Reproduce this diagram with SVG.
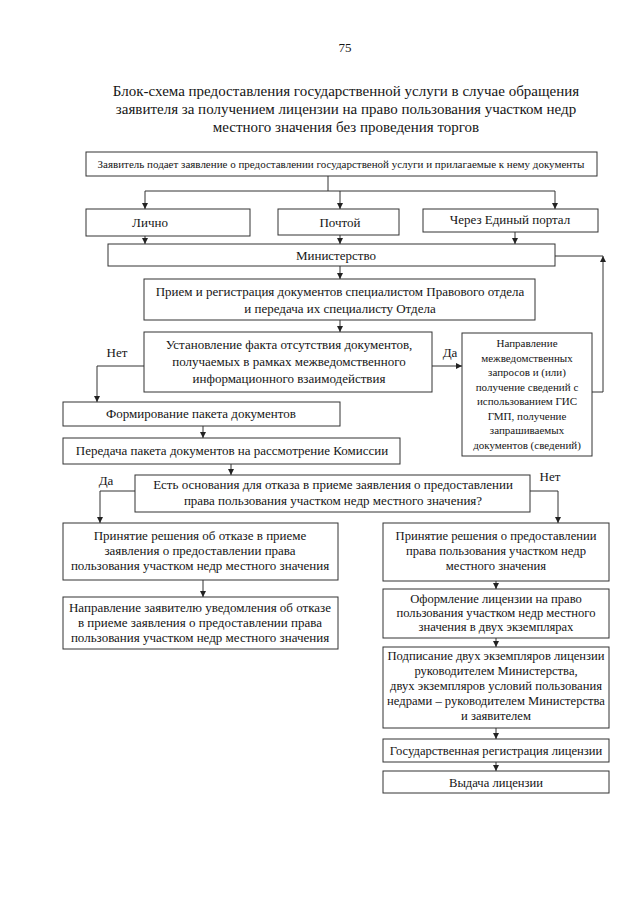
<svg xmlns="http://www.w3.org/2000/svg" width="640" height="905" viewBox="0 0 640 905">
<defs>
<marker id="ah" markerWidth="6" markerHeight="6" refX="6" refY="3" orient="auto" markerUnits="userSpaceOnUse"><path d="M0,0 L6,3 L0,6 z" fill="#222"/></marker>
<style>
.b{fill:#fff;stroke:#333;stroke-width:1}
.t{font-family:"Liberation Serif","Times New Roman",serif;font-size:13px;fill:#151515;text-anchor:middle}
.s{font-size:11px}
.h{font-size:15px}
.r{font-size:12.6px}
.c{fill:none;stroke:#333;stroke-width:1}
</style>
</defs>
<rect width="640" height="905" fill="#fff"/>
<text class="t" x="345" y="52">75</text>
<g id="title">
<text class="t h" x="346" y="96">Блок-схема предоставления государственной услуги в случае обращения</text>
<text class="t h" x="346" y="114">заявителя за получением лицензии на право пользования участком недр</text>
<text class="t h" x="346" y="132">местного значения без проведения торгов</text>
</g>
<g id="connectors">
<path class="c" d="M328,176 V191"/>
<path class="c" d="M145,191 H555"/>
<path class="c" d="M145,191 V209" marker-end="url(#ah)"/>
<path class="c" d="M340,191 V209" marker-end="url(#ah)"/>
<path class="c" d="M555,191 V209" marker-end="url(#ah)"/>
<path class="c" d="M145,236 V244" marker-end="url(#ah)"/>
<path class="c" d="M340,235 V244" marker-end="url(#ah)"/>
<path class="c" d="M515,232 V244" marker-end="url(#ah)"/>
<path class="c" d="M340,266 V279" marker-end="url(#ah)"/>
<path class="c" d="M340,320 V332" marker-end="url(#ah)"/>
<path class="c" d="M555,256 H603"/>
<path class="c" d="M592,392 H603 V256" marker-end="url(#ah)"/>
<path class="c" d="M432,366 H462" marker-end="url(#ah)"/>
<path class="c" d="M144,366 H97 V402" marker-end="url(#ah)"/>
<path class="c" d="M203,426 V438" marker-end="url(#ah)"/>
<path class="c" d="M231,464 V475" marker-end="url(#ah)"/>
<path class="c" d="M135,491 H100 V523" marker-end="url(#ah)"/>
<path class="c" d="M530,491 H558 V523" marker-end="url(#ah)"/>
<path class="c" d="M203,580 V597" marker-end="url(#ah)"/>
<path class="c" d="M496,581 V589" marker-end="url(#ah)"/>
<path class="c" d="M496,638 V647" marker-end="url(#ah)"/>
<path class="c" d="M496,728 V739" marker-end="url(#ah)"/>
<path class="c" d="M496,762 V771" marker-end="url(#ah)"/>
<text class="t" x="117" y="357">Нет</text>
<text class="t" x="450" y="357">Да</text>
<text class="t" x="106" y="485">Да</text>
<text class="t" x="550" y="481">Нет</text>
</g>
<g id="n-start"><rect class="b" x="86" y="152" width="511" height="24"/><text class="t s" x="341" y="168">Заявитель подает заявление о предоставлении государственой услуги и прилагаемые к нему документы</text></g>
<g id="n-lichno"><rect class="b" x="86" y="209" width="164" height="27"/><text class="t" x="150" y="227">Лично</text></g>
<g id="n-pochta"><rect class="b" x="278" y="209" width="121" height="26"/><text class="t" x="340" y="227">Почтой</text></g>
<g id="n-portal"><rect class="b" x="423" y="209" width="175" height="23"/><text class="t" x="510" y="224">Через Единый портал</text></g>
<g id="n-min"><rect class="b" x="108" y="244" width="447" height="22"/><text class="t" x="336" y="260">Министерство</text></g>
<g id="n-priem"><rect class="b" x="144" y="279" width="391" height="41"/><text class="t" x="340" y="296">Прием и регистрация документов специалистом Правового отдела</text><text class="t" x="340" y="313">и передача их специалисту Отдела</text></g>
<g id="n-ustan"><rect class="b" x="144" y="332" width="288" height="60"/><text class="t" x="289" y="349">Установление факта отсутствия документов,</text><text class="t" x="289" y="366">получаемых в рамках межведомственного</text><text class="t" x="289" y="383">информационного взаимодействия</text></g>
<g id="n-zapros"><rect class="b" x="462" y="333" width="130" height="123"/>
<text class="t s" x="527" y="347">Направление</text>
<text class="t s" x="527" y="361.5">межведомственных</text>
<text class="t s" x="527" y="376">запросов и (или)</text>
<text class="t s" x="527" y="390.5">получение сведений с</text>
<text class="t s" x="527" y="405">использованием ГИС</text>
<text class="t s" x="527" y="419.5">ГМП, получение</text>
<text class="t s" x="527" y="434">запрашиваемых</text>
<text class="t s" x="527" y="448.5">документов (сведений)</text></g>
<g id="n-form"><rect class="b" x="63" y="402" width="277" height="24"/><text class="t" x="201" y="418">Формирование пакета документов</text></g>
<g id="n-pered"><rect class="b" x="63" y="438" width="337" height="26"/><text class="t" x="232" y="455">Передача пакета документов на рассмотрение Комиссии</text></g>
<g id="n-est"><rect class="b" x="135" y="475" width="395" height="37"/><text class="t" x="333" y="489">Есть основания для отказа в приеме заявления о предоставлении</text><text class="t" x="333" y="505">права пользования участком недр местного значения?</text></g>
<g id="n-otkaz"><rect class="b" x="63" y="523" width="275" height="57"/><text class="t" x="200" y="540">Принятие решения об отказе в приеме</text><text class="t" x="200" y="555">заявления о предоставлении права</text><text class="t" x="200" y="570">пользования участком недр местного значения</text></g>
<g id="n-uved"><rect class="b" x="63" y="597" width="275" height="52"/><text class="t" x="200" y="612">Направление заявителю уведомления об отказе</text><text class="t" x="200" y="627">в приеме заявления о предоставлении права</text><text class="t" x="200" y="642">пользования участком недр местного значения</text></g>
<g id="n-predost"><rect class="b" x="383" y="523" width="226" height="58"/><text class="t r" x="496" y="540">Принятие решения о предоставлении</text><text class="t r" x="496" y="555">права пользования участком недр</text><text class="t r" x="496" y="570">местного значения</text></g>
<g id="n-oform"><rect class="b" x="383" y="589" width="226" height="49"/><text class="t r" x="496" y="603">Оформление лицензии на право</text><text class="t r" x="496" y="617">пользования участком недр местного</text><text class="t r" x="496" y="631">значения в двух экземплярах</text></g>
<g id="n-podp"><rect class="b" x="383" y="647" width="226" height="81"/><text class="t r" x="496" y="660">Подписание двух экземпляров лицензии</text><text class="t r" x="496" y="675">руководителем Министерства,</text><text class="t r" x="496" y="690">двух экземпляров условий пользования</text><text class="t r" x="496" y="705">недрами – руководителем Министерства</text><text class="t r" x="496" y="720">и заявителем</text></g>
<g id="n-reg"><rect class="b" x="383" y="739" width="226" height="23"/><text class="t r" x="496" y="755">Государственная регистрация лицензии</text></g>
<g id="n-vyd"><rect class="b" x="383" y="771" width="226" height="22"/><text class="t r" x="496" y="787">Выдача лицензии</text></g>
</svg>
